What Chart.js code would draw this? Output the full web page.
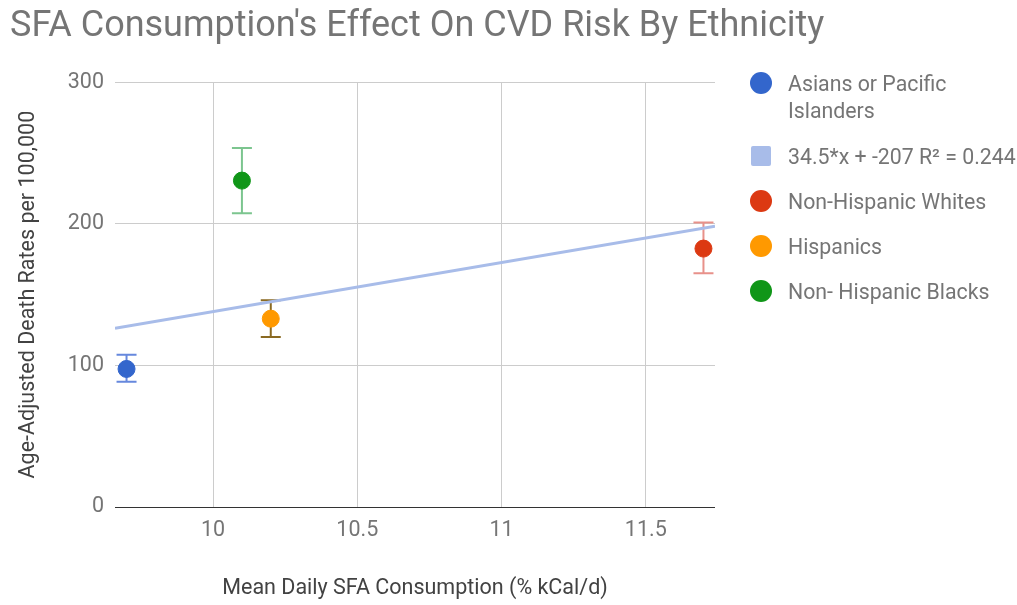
<!DOCTYPE html>
<html>
<head>
<meta charset="utf-8">
<script src="https://cdn.jsdelivr.net/npm/chart.js@4"></script>
<style>
  html, body { margin: 0; padding: 0; background: #fff; }
  #wrap { position: relative; width: 1017px; height: 605px; font-family: Roboto, sans-serif; }
  #legend { position: absolute; left: 750px; top: 0; width: 267px; color: #757575; font-size: 21.3px; }
  .item { position: absolute; left: 0; display: flex; align-items: flex-start; }
  .swatch { width: 22px; height: 22px; border-radius: 50%; margin-right: 16px; flex: none; }
  .sq { border-radius: 2px; width: 20px; height: 20px; margin: 1px 17px 0 1px; }
  .label { line-height: 27px; margin-top: -2px; }
</style>
</head>
<body>
<div id="wrap">
  <canvas id="chart" width="1017" height="605"></canvas>
  <div id="legend"></div>
</div>
<script>
// Data
const groups = ['Asians or Pacific Islanders', 'Non-Hispanic Whites', 'Hispanics', 'Non- Hispanic Blacks'];
const sfaIntake = [9.7, 11.7, 10.2, 10.1];
const deathRate = [97.5, 182.5, 133, 230.5];
const errLow = [88.5, 165, 120, 207.5];
const errHigh = [107.5, 201, 146, 253.5];
const pointColors = ['#3366cc', '#dc3912', '#ff9900', '#109618'];
const errColors = ['#6688dd', '#e8918a', '#8a6a22', '#7cc58f'];

const trendLabel = '34.5*x + -207 R\u00B2 = 0.244';
const trendX = [9.66, 11.74];
const trendY = [126.3, 198.2];

const xTicks = [10, 10.5, 11, 11.5];
const yTicks = [0, 100, 200, 300];

const GREY = '#757575';
const FONT = 'Roboto';

// error bars, drawn under the points
const errorBars = {
  id: 'errorBars',
  beforeDatasetsDraw(chart) {
    const { ctx, scales: { x, y } } = chart;
    ctx.save();
    ctx.lineWidth = 2;
    groups.forEach((g, i) => {
      const px = x.getPixelForValue(sfaIntake[i]);
      const top = y.getPixelForValue(errHigh[i]);
      const bot = y.getPixelForValue(errLow[i]);
      ctx.strokeStyle = errColors[i];
      ctx.beginPath();
      ctx.moveTo(px, top); ctx.lineTo(px, bot);
      ctx.moveTo(px - 10, top); ctx.lineTo(px + 10, top);
      ctx.moveTo(px - 10, bot); ctx.lineTo(px + 10, bot);
      ctx.stroke();
    });
    ctx.restore();
  },
};

const datasets = groups.map((g, i) => ({
  type: 'scatter',
  label: g,
  data: [{ x: sfaIntake[i], y: deathRate[i] }],
  backgroundColor: pointColors[i],
  borderColor: pointColors[i],
  pointRadius: 8.5,
  order: 1,
}));
datasets.push({
  type: 'line',
  label: trendLabel,
  data: trendX.map((v, i) => ({ x: v, y: trendY[i] })),
  borderColor: '#a8bce9',
  borderWidth: 3,
  pointRadius: 0,
  fill: false,
  order: 2,
});

new Chart(document.getElementById('chart'), {
  type: 'scatter',
  data: { datasets },
  plugins: [errorBars],
  options: {
    responsive: false,
    animation: false,
    layout: { padding: { left: 10, right: 0, top: 0, bottom: 0 } },
    plugins: {
      legend: { display: false },
      tooltip: { enabled: false },
      title: {
        display: true,
        text: "SFA Consumption's Effect On CVD Risk By Ethnicity",
        align: 'start',
        color: GREY,
        font: { family: FONT, size: 36, weight: 'normal' },
        padding: { top: 5, bottom: 34 },
      },
    },
    scales: {
      x: {
        type: 'linear',
        min: 9.66,
        max: 11.74,
        afterBuildTicks: (s) => { s.ticks = xTicks.map((v) => ({ value: v })); },
        afterFit: (s) => { s.height = 98; },
        ticks: {
          color: GREY,
          font: { family: FONT, size: 21.5 },
          padding: 11,
          autoSkip: false,
          maxRotation: 0,
          callback: (v) => String(v),
        },
        grid: { color: '#cccccc', drawTicks: false },
        border: { display: false },
        title: {
          display: true,
          text: 'Mean Daily SFA Consumption (% kCal/d)',
          color: '#424242',
          font: { family: FONT, size: 21.5 },
          padding: { top: 0, bottom: 3 },
        },
      },
      y: {
        type: 'linear',
        min: 0,
        max: 300,
        afterBuildTicks: (s) => { s.ticks = yTicks.map((v) => ({ value: v })); },
        afterFit: (s) => { s.width = 105; },
        ticks: { color: GREY, font: { family: FONT, size: 21.5 }, padding: 11 },
        grid: { color: (c) => (c.tick && c.tick.value === 0 ? '#333333' : '#cccccc'), drawTicks: false },
        border: { display: false },
        title: {
          display: true,
          text: 'Age-Adjusted Death Rates per 100,000',
          color: '#424242',
          font: { family: FONT, size: 21.5 },
          padding: { top: 6, bottom: 0 },
        },
      },
      // empty right-hand axis that reserves room for the HTML legend
      legendSpace: {
        type: 'linear',
        position: 'right',
        afterFit: (s) => { s.width = 302; },
        ticks: { display: false },
        grid: { display: false },
        border: { display: false },
      },
    },
  },
});

// legend, in the reference order
const legendItems = [
  { text: groups[0], color: pointColors[0], top: 72, square: false, width: 200 },
  { text: trendLabel, color: '#a8bce9', top: 145, square: true, width: 240 },
  { text: groups[1], color: pointColors[1], top: 190, square: false, width: 240 },
  { text: groups[2], color: pointColors[2], top: 235, square: false, width: 240 },
  { text: groups[3], color: pointColors[3], top: 280, square: false, width: 240 },
];
const legendEl = document.getElementById('legend');
legendItems.forEach((it) => {
  const row = document.createElement('div');
  row.className = 'item';
  row.style.top = it.top + 'px';
  const sw = document.createElement('div');
  sw.className = it.square ? 'swatch sq' : 'swatch';
  sw.style.background = it.color;
  const lab = document.createElement('div');
  lab.className = 'label';
  lab.style.width = it.width + 'px';
  lab.textContent = it.text;
  row.appendChild(sw);
  row.appendChild(lab);
  legendEl.appendChild(row);
});
</script>
</body>
</html>
